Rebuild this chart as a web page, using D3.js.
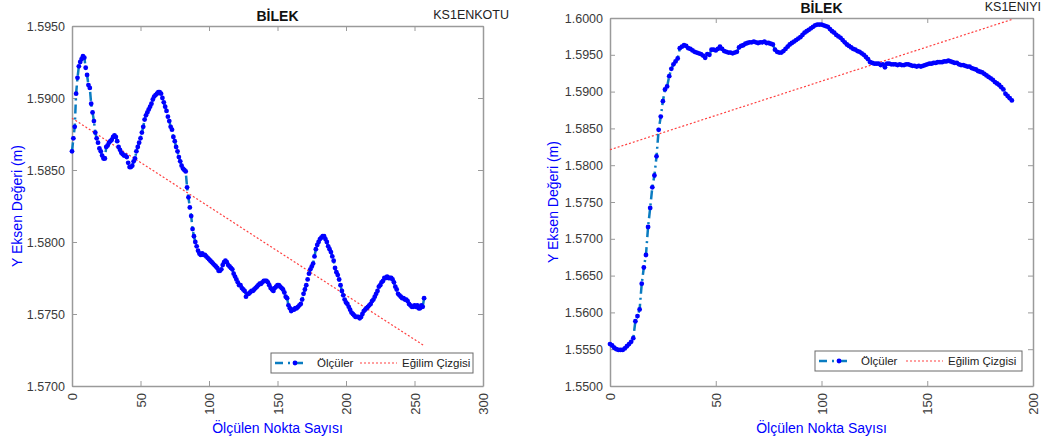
<!DOCTYPE html>
<html>
<head>
<meta charset="utf-8">
<script src="https://cdn.jsdelivr.net/npm/d3@7"></script>
<style>
  body { margin: 0; background: #fff; }
  svg { display: block; font-family: "Liberation Sans", Arial, sans-serif; }
</style>
</head>
<body>
<div id="chart"></div>
<script>
// measured Y values, one per point (x = point index)
const enkotuY = [
  1.5863, 1.5872, 1.5880, 1.5903, 1.5914, 1.5922, 1.5925, 1.5927, 1.5929, 1.5928,
  1.5921, 1.5916, 1.5909, 1.5907, 1.5896, 1.5890, 1.5884, 1.5876, 1.5872, 1.5869,
  1.5865, 1.5863, 1.5860, 1.5858, 1.5858, 1.5866, 1.5867, 1.5869, 1.5870, 1.5871,
  1.5873, 1.5874, 1.5873, 1.5870, 1.5866, 1.5864, 1.5862, 1.5861, 1.5860, 1.5860,
  1.5859, 1.5855, 1.5852, 1.5852, 1.5853, 1.5856, 1.5858, 1.5863, 1.5866, 1.5869,
  1.5872, 1.5876, 1.5880, 1.5885, 1.5888, 1.5890, 1.5892, 1.5894, 1.5896, 1.5899,
  1.5901, 1.5902, 1.5903, 1.5904, 1.5904, 1.5903, 1.5900, 1.5897, 1.5894, 1.5891,
  1.5887, 1.5884, 1.5880, 1.5878, 1.5873, 1.5870, 1.5866, 1.5863, 1.5859, 1.5856,
  1.5853, 1.5851, 1.5850, 1.5849, 1.5838, 1.5831, 1.5824, 1.5818, 1.5809, 1.5804,
  1.5800, 1.5797, 1.5794, 1.5792, 1.5791, 1.5792, 1.5791, 1.5791, 1.5790, 1.5789,
  1.5788, 1.5787, 1.5786, 1.5785, 1.5784, 1.5783, 1.5782, 1.5780, 1.5780, 1.5781,
  1.5784, 1.5786, 1.5787, 1.5786, 1.5784, 1.5783, 1.5782, 1.5781, 1.5778, 1.5776,
  1.5774, 1.5772, 1.5770, 1.5770, 1.5768, 1.5767, 1.5766, 1.5762, 1.5764, 1.5764,
  1.5765, 1.5766, 1.5766, 1.5767, 1.5768, 1.5769, 1.5770, 1.5771, 1.5771, 1.5772,
  1.5773, 1.5773, 1.5773, 1.5772, 1.5770, 1.5768, 1.5767, 1.5766, 1.5768, 1.5769,
  1.5770, 1.5770, 1.5769, 1.5768, 1.5767, 1.5765, 1.5762, 1.5761, 1.5756, 1.5754,
  1.5752, 1.5753, 1.5753, 1.5754, 1.5754, 1.5755, 1.5756, 1.5757, 1.5760, 1.5764,
  1.5767, 1.5770, 1.5774, 1.5778, 1.5781, 1.5783, 1.5785, 1.5790, 1.5795, 1.5798,
  1.5800, 1.5802, 1.5803, 1.5804, 1.5804, 1.5802, 1.5800, 1.5797, 1.5795, 1.5793,
  1.5790, 1.5787, 1.5782, 1.5779, 1.5777, 1.5774, 1.5770, 1.5766, 1.5763, 1.5760,
  1.5758, 1.5757, 1.5755, 1.5753, 1.5751, 1.5750, 1.5749, 1.5748, 1.5748, 1.5748,
  1.5747, 1.5748, 1.5750, 1.5752, 1.5753, 1.5754, 1.5755, 1.5756, 1.5757, 1.5759,
  1.5760, 1.5762, 1.5764, 1.5766, 1.5769, 1.5770, 1.5772, 1.5773, 1.5775, 1.5775,
  1.5776, 1.5775, 1.5775, 1.5775, 1.5774, 1.5772, 1.5769, 1.5767, 1.5764, 1.5763,
  1.5762, 1.5761, 1.5761, 1.5760, 1.5760, 1.5759, 1.5757, 1.5756, 1.5755, 1.5755,
  1.5756, 1.5755, 1.5756, 1.5754, 1.5754, 1.5756, 1.5755, 1.5761
];

const eniyiY = [
  1.5557, 1.5555, 1.5552, 1.5550, 1.5549, 1.5549, 1.5549, 1.5551, 1.5554, 1.5557,
  1.5560, 1.5565, 1.5588, 1.5595, 1.5604, 1.5639, 1.5661, 1.5678, 1.5716, 1.5742,
  1.5770, 1.5786, 1.5812, 1.5848, 1.5866, 1.5887, 1.5903, 1.5907, 1.5921, 1.5931,
  1.5937, 1.5941, 1.5945, 1.5959, 1.5961, 1.5963, 1.5962, 1.5959, 1.5958, 1.5956,
  1.5954, 1.5953, 1.5952, 1.5951, 1.5949, 1.5946, 1.5951, 1.5950, 1.5957, 1.5957,
  1.5956, 1.5958, 1.5961, 1.5958, 1.5955, 1.5954, 1.5953, 1.5953, 1.5952, 1.5953,
  1.5954, 1.5960, 1.5962, 1.5963, 1.5965, 1.5966, 1.5967, 1.5967, 1.5968, 1.5967,
  1.5966, 1.5967, 1.5967, 1.5968, 1.5966, 1.5966, 1.5965, 1.5964, 1.5957, 1.5954,
  1.5953, 1.5953, 1.5955, 1.5958, 1.5961, 1.5964, 1.5966, 1.5968, 1.5970, 1.5972,
  1.5974, 1.5977, 1.5980, 1.5982, 1.5984, 1.5986, 1.5988, 1.5990, 1.5991, 1.5991,
  1.5991, 1.5990, 1.5989, 1.5988, 1.5985, 1.5982, 1.5980, 1.5977, 1.5975, 1.5973,
  1.5970, 1.5967, 1.5964, 1.5962, 1.5960, 1.5958, 1.5957, 1.5955, 1.5954, 1.5952,
  1.5950, 1.5947, 1.5944, 1.5940, 1.5939, 1.5938, 1.5938, 1.5938, 1.5936, 1.5937,
  1.5933, 1.5938, 1.5938, 1.5937, 1.5937, 1.5937, 1.5936, 1.5937, 1.5936, 1.5936,
  1.5937, 1.5937, 1.5936, 1.5935, 1.5935, 1.5934, 1.5935, 1.5934, 1.5935, 1.5936,
  1.5937, 1.5938, 1.5938, 1.5939, 1.5939, 1.5940, 1.5940, 1.5940, 1.5941, 1.5941,
  1.5942, 1.5941, 1.5940, 1.5939, 1.5939, 1.5937, 1.5936, 1.5936, 1.5935, 1.5934,
  1.5934, 1.5932, 1.5931, 1.5930, 1.5928, 1.5927, 1.5926, 1.5924, 1.5922, 1.5920,
  1.5918, 1.5916, 1.5913, 1.5911, 1.5909, 1.5906, 1.5903, 1.5897, 1.5894, 1.5891,
  1.5888
];

// trend line end values (first point, last point)
const enkotuTrend = [1.5886, 1.5728];
const eniyiTrend = [1.5821, 1.5998];

const enkotuXTicks = [0, 50, 100, 150, 200, 250, 300];
const enkotuYTicks = [1.570, 1.575, 1.580, 1.585, 1.590, 1.595];
const eniyiXTicks = [0, 50, 100, 150, 200];
const eniyiYTicks = [1.550, 1.555, 1.560, 1.565, 1.570, 1.575, 1.580, 1.585, 1.590, 1.595, 1.600];

const titleText = "BİLEK";
const xLabel = "Ölçülen Nokta Sayısı";
const yLabel = "Y Eksen Değeri (m)";
const legendNames = ["Ölçüler", "Eğilim Çizgisi"];

const W = 1045, H = 441;
const svg = d3.select("#chart").append("svg")
  .attr("width", W).attr("height", H);

const lineColor = "#0a7cc1";
const dotColor = "#0000ff";
const trendColor = "#ff4040";
const axisColor = "#9a9a9a";
const tickTextColor = "#3a3a3a";
const dashPattern = "9,4,2,4";

function drawPanel(p) {
  const innerW = p.right - p.left;
  const innerH = p.bottom - p.top;
  const g = svg.append("g").attr("transform", `translate(${p.left},${p.top})`);

  const x = d3.scaleLinear().domain(p.xDomain).range([0, innerW]);
  const y = d3.scaleLinear().domain(p.yDomain).range([innerH, 0]);

  // axes (box with ticks on all sides)
  const fmt = d3.format(".4f");
  const axB = g.append("g").attr("transform", `translate(0,${innerH})`)
    .call(d3.axisBottom(x).tickValues(p.xTicks).tickSizeInner(-5).tickSizeOuter(0).tickPadding(6));
  const axT = g.append("g")
    .call(d3.axisTop(x).tickValues(p.xTicks).tickSizeInner(-5).tickSizeOuter(0).tickFormat(""));
  const axL = g.append("g")
    .call(d3.axisLeft(y).tickValues(p.yTicks).tickFormat(fmt).tickSizeInner(-5).tickSizeOuter(0).tickPadding(7));
  const axR = g.append("g").attr("transform", `translate(${innerW},0)`)
    .call(d3.axisRight(y).tickValues(p.yTicks).tickSizeInner(-5).tickSizeOuter(0).tickFormat(""));

  [axB, axT, axL, axR].forEach(a => {
    a.select(".domain").attr("stroke", axisColor).attr("stroke-width", 1.5);
    a.selectAll(".tick line").attr("stroke", axisColor).attr("stroke-width", 1);
    a.selectAll("text").attr("fill", tickTextColor)
      .attr("font-size", "12.5px")
      .attr("font-family", "Liberation Sans, Arial, sans-serif");
  });
  axB.selectAll("text")
    .attr("transform", "rotate(-90)")
    .attr("text-anchor", "end")
    .attr("font-size", "13px")
    .attr("dx", "-7")
    .attr("dy", "0.35em")
    .attr("x", 0).attr("y", 0);

  const pts = p.values.map((v, i) => ({ i, v }));

  // trend line
  const n = p.values.length - 1;
  g.append("line")
    .attr("x1", x(0)).attr("y1", y(p.trend[0]))
    .attr("x2", x(n)).attr("y2", y(p.trend[1]))
    .attr("stroke", trendColor)
    .attr("stroke-width", 1.2)
    .attr("stroke-dasharray", "2,2");

  // measurements: dash-dot line + dot markers
  const line = d3.line().x(d => x(d.i)).y(d => y(d.v));
  g.append("path")
    .datum(pts)
    .attr("fill", "none")
    .attr("stroke", lineColor)
    .attr("stroke-width", 2.5)
    .attr("stroke-dasharray", dashPattern)
    .attr("d", line);

  g.selectAll(".dot")
    .data(pts)
    .join("circle")
    .attr("class", "dot")
    .attr("cx", d => x(d.i))
    .attr("cy", d => y(d.v))
    .attr("r", 2.4)
    .attr("fill", dotColor);

  // titles
  svg.append("text")
    .attr("x", p.left + innerW / 2)
    .attr("y", p.titleY)
    .attr("text-anchor", "middle")
    .attr("font-size", "14px")
    .attr("font-weight", "bold")
    .attr("fill", "#111")
    .text(titleText);

  svg.append("text")
    .attr("x", p.nameX)
    .attr("y", p.nameY)
    .attr("text-anchor", "end")
    .attr("font-size", "12.5px")
    .attr("fill", "#222")
    .text(p.name);

  // axis labels
  svg.append("text")
    .attr("x", p.left + innerW / 2)
    .attr("y", 433)
    .attr("text-anchor", "middle")
    .attr("font-size", "14px")
    .attr("fill", "#0000ff")
    .text(xLabel);

  svg.append("text")
    .attr("transform", "rotate(-90)")
    .attr("x", -(p.top + innerH / 2))
    .attr("y", p.yLabelX)
    .attr("text-anchor", "middle")
    .attr("font-size", "14px")
    .attr("fill", "#0000ff")
    .text(yLabel);

  // legend
  const lg = svg.append("g").attr("transform", `translate(${p.legend[0]},${p.legend[1]})`);
  const lw = p.legend[2], lh = 20;
  lg.append("rect")
    .attr("width", lw).attr("height", lh)
    .attr("fill", "#fff")
    .attr("stroke", "#6a6a6a")
    .attr("stroke-width", 1);
  lg.append("line")
    .attr("x1", 4).attr("x2", 34).attr("y1", lh / 2).attr("y2", lh / 2)
    .attr("stroke", lineColor).attr("stroke-width", 2.5)
    .attr("stroke-dasharray", "8,5,2,5");
  lg.append("circle")
    .attr("cx", 24).attr("cy", lh / 2).attr("r", 2.4).attr("fill", dotColor);
  lg.append("text")
    .attr("x", 46).attr("y", lh / 2).attr("dy", "0.35em")
    .attr("font-size", "11.5px").attr("fill", "#222")
    .text(legendNames[0]);
  lg.append("line")
    .attr("x1", p.legend[3]).attr("x2", p.legend[3] + 37)
    .attr("y1", lh / 2).attr("y2", lh / 2)
    .attr("stroke", trendColor).attr("stroke-width", 1.2)
    .attr("stroke-dasharray", "2,2");
  lg.append("text")
    .attr("x", p.legend[3] + 42).attr("y", lh / 2).attr("dy", "0.35em")
    .attr("font-size", "11.5px").attr("fill", "#222")
    .text(legendNames[1]);
}

drawPanel({
  left: 72, right: 483, top: 26, bottom: 386,
  xDomain: [0, 300], yDomain: [1.570, 1.595],
  xTicks: enkotuXTicks, yTicks: enkotuYTicks,
  values: enkotuY, trend: enkotuTrend,
  name: "KS1ENKOTU", nameX: 509, nameY: 19,
  titleY: 21, yLabelX: 22,
  legend: [271, 353, 202, 89]
});

drawPanel({
  left: 610, right: 1033, top: 18, bottom: 386,
  xDomain: [0, 200], yDomain: [1.550, 1.600],
  xTicks: eniyiXTicks, yTicks: eniyiYTicks,
  values: eniyiY, trend: eniyiTrend,
  name: "KS1ENIYI", nameX: 1041, nameY: 11,
  titleY: 13, yLabelX: 558,
  legend: [815, 351, 207, 91]
});
</script>
</body>
</html>
